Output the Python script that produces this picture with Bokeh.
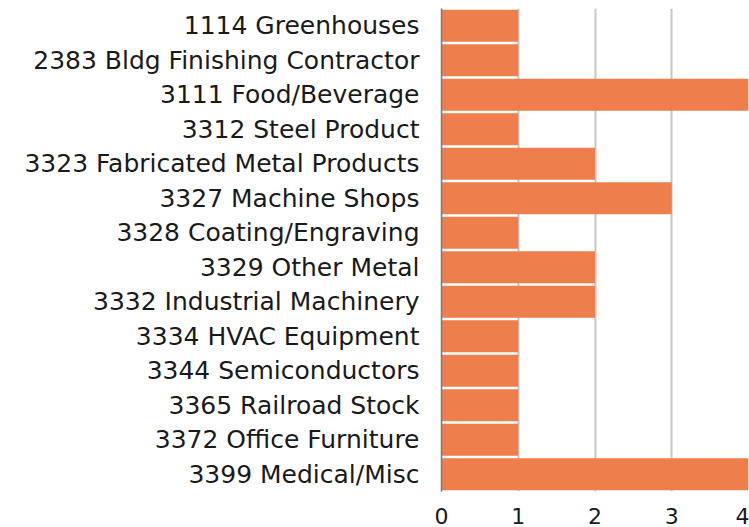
from bokeh.plotting import figure
from bokeh.models import Range1d, FixedTicker, ColumnDataSource
from bokeh.embed import file_html
from bokeh.resources import INLINE

categories = [
    "1114 Greenhouses",
    "2383 Bldg Finishing Contractor",
    "3111 Food/Beverage",
    "3312 Steel Product",
    "3323 Fabricated Metal Products",
    "3327 Machine Shops",
    "3328 Coating/Engraving",
    "3329 Other Metal",
    "3332 Industrial Machinery",
    "3334 HVAC Equipment",
    "3344 Semiconductors",
    "3365 Railroad Stock",
    "3372 Office Furniture",
    "3399 Medical/Misc",
]
counts = [1, 1, 4, 1, 2, 3, 1, 2, 2, 1, 1, 1, 1, 4]
x_ticks = [0, 1, 2, 3, 4]

FONT = "DejaVu Sans"
source = ColumnDataSource(dict(cat=categories, val=counts))

p = figure(
    width=749, height=527,
    y_range=list(reversed(categories)),
    x_range=Range1d(0, 4),
    output_backend="svg", toolbar_location=None,
    min_border_left=441, min_border_right=1,
    min_border_top=8, min_border_bottom=36,
)
p.y_range.range_padding = 0
p.hbar(y="cat", right="val", left=0, height=0.93, source=source,
       fill_color="#EE7F4C", line_color=None)

p.outline_line_color = None
p.ygrid.grid_line_color = None
p.xgrid.grid_line_color = "#C6C6C6"
p.xgrid.grid_line_width = 2
p.xaxis.ticker = FixedTicker(ticks=x_ticks)
p.xaxis.axis_line_color = None
p.xaxis.major_tick_line_color = None
p.xaxis.minor_tick_line_color = None
p.xaxis.major_label_text_font = FONT
p.xaxis.major_label_text_font_size = "22px"
p.xaxis.major_label_text_color = "#1a1a1a"
p.xaxis.major_label_standoff = 10

p.yaxis.axis_line_color = "#7a7a7a"
p.yaxis.axis_line_width = 1.5
p.yaxis.major_tick_line_color = None
p.yaxis.minor_tick_line_color = None
p.yaxis.major_label_text_font = FONT
p.yaxis.major_label_text_font_size = "25px"
p.yaxis.major_label_text_color = "#1a1a1a"
p.yaxis.major_label_standoff = 16

open("out.html", "w").write(file_html(p, INLINE))
